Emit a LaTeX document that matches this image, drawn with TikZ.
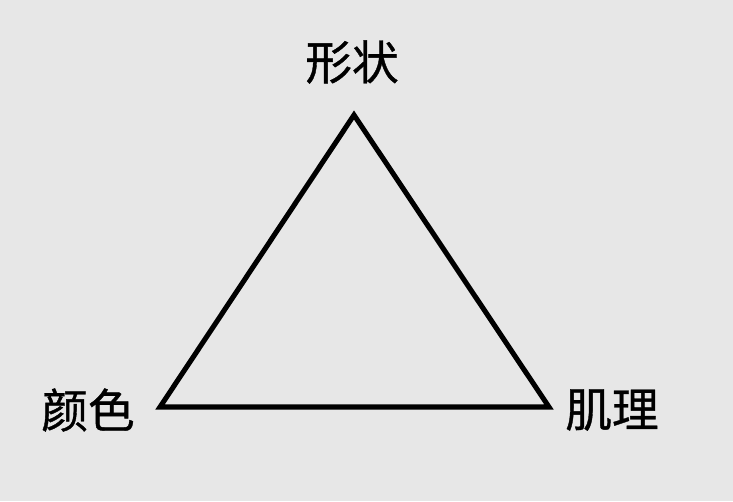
\documentclass[tikz,border=0pt]{standalone}
\usepackage{fontspec}
\newfontfamily\cjk[FakeBold=0.8]{Noto Sans CJK SC}
\usetikzlibrary{backgrounds, positioning, calc}

\definecolor{hintergrund}{HTML}{E7E7E7}

\tikzset{
	wort/.style={font=\cjk\fontsize{35}{40}\selectfont, inner sep=0pt},
	kante/.style={line width=3.8pt, line join=miter}
}

\begin{document}
\begin{tikzpicture}[x=0.75pt, y=-0.75pt]
		\fill [hintergrund] (0,0) rectangle (733,501);
		\useasboundingbox (0,0) rectangle (733,501);
		\coordinate (oben) at (354,115);
		\coordinate (links) at (160,407);
		\coordinate (rechts) at (549,407);
		\draw [kante] (oben) -- (links) -- (rechts) -- cycle;
		\node [wort] (xingzhuang) at (352,62) {形状};
		\node [wort] (yanse) at (88,410) {颜色};
		\node [wort] (jili) at (612,410) {肌理};
	\end{tikzpicture}
\end{document}
